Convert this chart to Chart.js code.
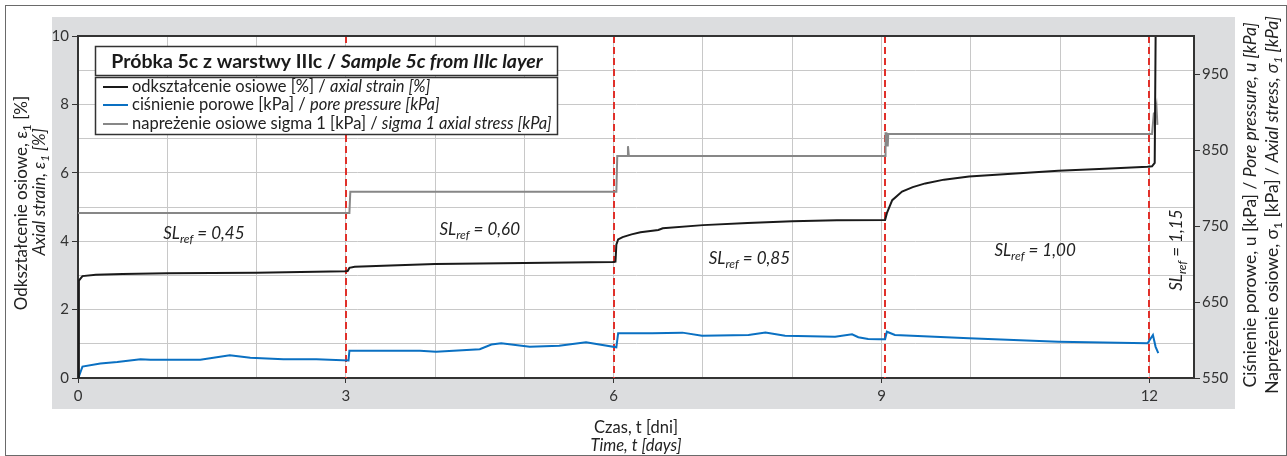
<!DOCTYPE html>
<html><head><meta charset="utf-8">
<script src="https://cdn.jsdelivr.net/npm/chart.js@4.4.0/dist/chart.umd.min.js"></script>
<style>html,body{margin:0;padding:0;background:#fff;}canvas{display:block;}</style>
</head><body>
<canvas id="c" width="1287" height="456"></canvas>
<script>
// ---------------- data ----------------
const strainT = [0,0.01,0.05,0.2,0.5,1,2,2.99,3.02,3.04,3.1,3.5,4,5,5.99,6.02,6.03,6.05,6.1,6.2,6.3,6.5,6.55,7,7.5,8,8.5,9.04,9.06,9.12,9.23,9.35,9.49,9.7,9.98,10.5,10.98,11.5,11.98,12.03,12.06,12.07,12.08];
const strainV = [0,2.85,2.98,3.02,3.04,3.06,3.08,3.12,3.13,3.22,3.25,3.29,3.33,3.36,3.39,3.40,3.9,4.05,4.12,4.2,4.26,4.33,4.38,4.47,4.53,4.58,4.61,4.62,4.82,5.2,5.45,5.58,5.69,5.8,5.89,5.98,6.06,6.12,6.18,6.19,6.29,9.97,10.6];

const poreT = [0,0.01,0.05,0.25,0.44,0.7,0.81,1.37,1.7,1.93,2.3,2.67,3.03,3.04,3.83,4.01,4.5,4.63,4.74,5.06,5.39,5.69,5.84,6.03,6.05,6.43,6.77,6.99,7.51,7.7,7.92,8.48,8.67,8.74,8.85,8.97,9.04,9.06,9.15,9.98,10.98,11.98,12.04,12.07,12.1];
const poreV = [550,552,565,569,571,574.7,574,574,580,576.7,574.7,574.8,573,586,586,584.6,587.8,594,595.6,591,592.5,597,594,590.4,609,609,609.7,605.7,606.6,609.7,605.7,604.4,607.5,603.6,601.3,601,601,610.9,606.6,602.2,597.8,595.7,606.6,591,582.6];

const stressT = [0,3.04,3.05,6.03,6.04,6.15,6.16,6.17,9.04,9.045,9.055,9.06,9.07,9.075,12.03,12.05,12.07,12.08,12.09];
const stressV = [767,767,795,795,842,842,855,842,842,872,872,856,856,871,871,898,900,907,883];

const stageT = [3.0, 6.0, 9.04, 12.0];
const slValues = ['0,45','0,60','0,85','1,00','1,15'];

const xGridValues = [0,1,2,3,4,5,6,7,8,9,10,11,12];
const xTickLabels = [0,3,6,9,12];
const leftTickLabels = [0,2,4,6,8,10];
const rightTickLabels = [550,650,750,850,950];

const seriesNames = [
  ['odkształcenie osiowe [%] / ','axial strain [%]'],
  ['ciśnienie porowe [kPa] / ','pore pressure [kPa]'],
  ['napreżenie osiowe sigma 1 [kPa] / ','sigma 1 axial stress [kPa]']
];
const titleText = ['Próbka 5c z warstwy IIIc / ','Sample 5c from IIIc layer'];

// ---------------- helpers ----------------
const FAM = 'Lato, "Open Sans", sans-serif';
const COL_STRAIN = '#1a1a1a', COL_PORE = '#0a70c2', COL_STRESS = '#878787';
const toXY = (t, v) => t.map((x, i) => ({x, y: v[i]}));

function runsWidth(ctx, runs){ let w = 0; for (const r of runs){ ctx.font = r.font; w += ctx.measureText(r.text).width; } return w; }
function drawRuns(ctx, x, y, runs, align){
  const w = runsWidth(ctx, runs);
  let cx = align === 'center' ? x - w/2 : (align === 'right' ? x - w : x);
  ctx.textBaseline = 'alphabetic'; ctx.textAlign = 'left';
  for (const r of runs){ ctx.font = r.font; ctx.fillText(r.text, cx, y + (r.dy || 0)); cx += ctx.measureText(r.text).width; }
  return w;
}

const deco = {
  id: 'deco',
  beforeDraw(chart){
    const ctx = chart.ctx, a = chart.chartArea;
    ctx.save();
    ctx.fillStyle = '#ffffff'; ctx.fillRect(0,0,chart.width,chart.height);
    ctx.fillStyle = '#dcdddf'; ctx.fillRect(52,17,1183,392);
    ctx.fillStyle = '#ffffff'; ctx.fillRect(a.left,a.top,a.right-a.left,a.bottom-a.top);
    ctx.strokeStyle = '#6a6a6a'; ctx.lineWidth = 1;
    ctx.strokeRect(5.5,5.5,1281,450);
    ctx.restore();
  },
  beforeDatasetsDraw(chart){
    const ctx = chart.ctx, a = chart.chartArea, xs = chart.scales.x;
    ctx.save();
    ctx.strokeStyle = '#e0302a'; ctx.lineWidth = 2; ctx.setLineDash([7,4]);
    for (const t of stageT){
      const px = Math.round(xs.getPixelForValue(t));
      ctx.beginPath(); ctx.moveTo(px, a.top); ctx.lineTo(px, a.bottom); ctx.stroke();
    }
    ctx.restore();
  },
  afterDraw(chart){
    const ctx = chart.ctx, a = chart.chartArea, xs = chart.scales.x, ys = chart.scales.y;
    ctx.save();
    // top frame
    ctx.strokeStyle = '#333'; ctx.lineWidth = 2;
    ctx.beginPath(); ctx.moveTo(a.left-1, a.top); ctx.lineTo(a.right+1, a.top); ctx.stroke();

    // legend boxes
    ctx.fillStyle = '#fff';
    ctx.fillRect(95,46,463,30); ctx.fillRect(95,77,463,58);
    ctx.strokeStyle = '#333'; ctx.lineWidth = 1.5;
    ctx.strokeRect(95.5,46.5,462,29);
    ctx.strokeRect(95.5,77.5,462,57);
    ctx.fillStyle = '#1a1a1a';
    drawRuns(ctx, 327, 68, [
      {text: titleText[0], font: 'bold 19.5px ' + FAM},
      {text: titleText[1], font: 'italic bold 19.5px ' + FAM}], 'center');
    const cols = [COL_STRAIN, COL_PORE, COL_STRESS];
    const ly = [87, 105, 124];
    for (let i = 0; i < 3; i++){
      ctx.strokeStyle = cols[i]; ctx.lineWidth = 2;
      ctx.beginPath(); ctx.moveTo(103, ly[i]); ctx.lineTo(128, ly[i]); ctx.stroke();
      ctx.fillStyle = '#222';
      drawRuns(ctx, 132, ly[i] + 5, [
        {text: seriesNames[i][0], font: '16.5px ' + FAM},
        {text: seriesNames[i][1], font: 'italic 16.5px ' + FAM}], 'left');
    }

    // SL annotations
    ctx.fillStyle = '#222';
    const slRuns = v => [
      {text: 'SL', font: 'italic 17px ' + FAM},
      {text: 'ref', font: 'italic 12px ' + FAM, dy: 4},
      {text: ' = ' + v, font: 'italic 17px ' + FAM}];
    const slPos = [[1.41,4.24],[4.50,4.36],[7.52,3.51],[10.72,3.74]];
    for (let i = 0; i < 4; i++){
      drawRuns(ctx, xs.getPixelForValue(slPos[i][0]), ys.getPixelForValue(slPos[i][1]) + 6, slRuns(slValues[i]), 'center');
    }
    ctx.save();
    ctx.translate(xs.getPixelForValue(12.3) + 6, ys.getPixelForValue(3.74));
    ctx.rotate(-Math.PI/2);
    drawRuns(ctx, 0, 0, slRuns(slValues[4]), 'center');
    ctx.restore();

    // left axis titles
    ctx.fillStyle = '#222';
    ctx.save(); ctx.translate(27, 203); ctx.rotate(-Math.PI/2);
    drawRuns(ctx, 0, 0, [
      {text: 'Odkształcenie osiowe, ε', font: '17px ' + FAM},
      {text: '1', font: '12px ' + FAM, dy: 4},
      {text: ' [%]', font: '17px ' + FAM}], 'center');
    ctx.restore();
    ctx.save(); ctx.translate(45, 192); ctx.rotate(-Math.PI/2);
    drawRuns(ctx, 0, 0, [
      {text: 'Axial strain, ε', font: 'italic 17px ' + FAM},
      {text: '1', font: 'italic 12px ' + FAM, dy: 4},
      {text: ' [%]', font: 'italic 17px ' + FAM}], 'center');
    ctx.restore();

    // right axis titles
    ctx.save(); ctx.translate(1256, 205); ctx.rotate(-Math.PI/2);
    drawRuns(ctx, 0, 0, [
      {text: 'Ciśnienie porowe, u [kPa] / ', font: '17.5px ' + FAM},
      {text: 'Pore pressure, u [kPa]', font: 'italic 17.5px ' + FAM}], 'center');
    ctx.restore();
    ctx.save(); ctx.translate(1278, 205); ctx.rotate(-Math.PI/2);
    drawRuns(ctx, 0, 0, [
      {text: 'Naprężenie osiowe, σ', font: '17.5px ' + FAM},
      {text: '1', font: '12px ' + FAM, dy: 4},
      {text: ' [kPa] / ', font: '17.5px ' + FAM},
      {text: 'Axial stress, σ', font: 'italic 17.5px ' + FAM},
      {text: '1', font: 'italic 12px ' + FAM, dy: 4},
      {text: ' [kPa]', font: 'italic 17.5px ' + FAM}], 'center');
    ctx.restore();

    // x axis titles
    drawRuns(ctx, 636, 433, [{text: 'Czas, t [dni]', font: '16.5px ' + FAM}], 'center');
    drawRuns(ctx, 636, 451, [{text: 'Time, t [days]', font: 'italic 16.5px ' + FAM}], 'center');
    ctx.restore();
  }
};

const tickFont = {family: FAM, size: 15};
new Chart(document.getElementById('c'), {
  type: 'scatter',
  data: {
    datasets: [
      {label: 'strain', data: toXY(strainT, strainV), yAxisID: 'y', borderColor: COL_STRAIN, borderWidth: 2},
      {label: 'pore', data: toXY(poreT, poreV), yAxisID: 'y1', borderColor: COL_PORE, borderWidth: 2},
      {label: 'stress', data: toXY(stressT, stressV), yAxisID: 'y1', borderColor: COL_STRESS, borderWidth: 2}
    ].map(d => Object.assign(d, {showLine: true, pointRadius: 0, fill: false, tension: 0}))
  },
  options: {
    responsive: false, animation: false, devicePixelRatio: 1,
    layout: {padding: {top: 36, left: 0, right: 0, bottom: 0}},
    plugins: {legend: {display: false}, tooltip: {enabled: false}},
    scales: {
      x: {
        type: 'linear', min: 0, max: 12.5,
        afterBuildTicks: s => { s.ticks = xGridValues.map(v => ({value: v})); },
        ticks: {autoSkip: false, maxRotation: 0, color: '#333', font: tickFont, padding: 4,
          callback: v => xTickLabels.includes(v) ? String(v) : ''},
        grid: {color: '#c8c8c8', lineWidth: 1, tickLength: 5,
          tickColor: c => (c.tick && xTickLabels.includes(c.tick.value)) ? '#333' : 'rgba(0,0,0,0)'},
        border: {color: '#333', width: 2},
        afterFit: s => { s.height = 78; }
      },
      y: {
        position: 'left', min: 0, max: 10,
        ticks: {stepSize: 1, autoSkip: false, color: '#333', font: tickFont, padding: 3,
          callback: v => leftTickLabels.includes(v) ? String(v) : ''},
        grid: {color: '#c8c8c8', lineWidth: 1, tickLength: 6,
          tickColor: c => (c.tick && leftTickLabels.includes(c.tick.value)) ? '#333' : 'rgba(0,0,0,0)'},
        border: {color: '#333', width: 2},
        afterFit: s => { s.width = 78; }
      },
      y1: {
        position: 'right', min: 550, max: 1000,
        afterBuildTicks: s => { s.ticks = rightTickLabels.map(v => ({value: v})); },
        ticks: {autoSkip: false, color: '#333', font: tickFont, padding: 2,
          callback: v => String(v)},
        grid: {drawOnChartArea: false, tickLength: 6, tickColor: '#333'},
        border: {color: '#333', width: 2},
        afterFit: s => { s.width = 93; }
      }
    }
  },
  plugins: [deco]
});
</script>
</body></html>
